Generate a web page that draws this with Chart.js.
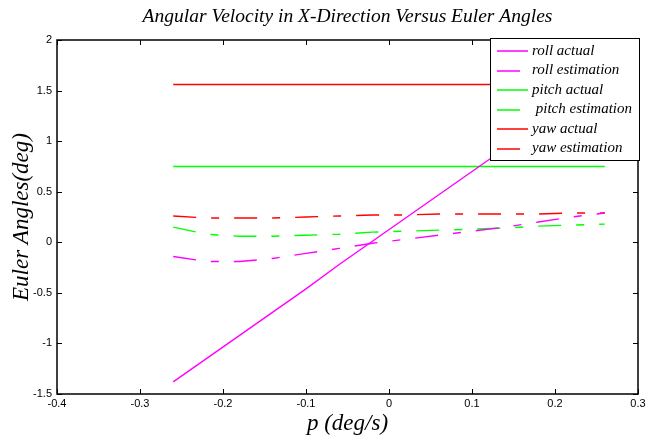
<!DOCTYPE html>
<html>
<head>
<meta charset="utf-8">
<script src="https://cdn.jsdelivr.net/npm/chart.js@4"></script>
<style>
  html, body { margin: 0; padding: 0; background: #fff; }
  #wrap { width: 649px; height: 437px; }
</style>
</head>
<body>
<div id="wrap"><canvas id="chart" width="649" height="437"></canvas></div>
<script>
// p (deg/s) sample points
const pValues = [-0.26, -0.22, -0.18, -0.14, -0.10, -0.06, -0.02, 0.02, 0.06, 0.10, 0.14, 0.18, 0.22, 0.26];

const rollActual = [-1.38, -1.15, -0.92, -0.69, -0.46, -0.22, 0.01, 0.24, 0.47, 0.70, 0.93, 1.16, 1.39, 1.62];
const rollEstimation = [-0.14, -0.19, -0.19, -0.16, -0.11, -0.06, -0.01, 0.03, 0.07, 0.11, 0.15, 0.20, 0.25, 0.29];
const pitchActual = [0.75, 0.75, 0.75, 0.75, 0.75, 0.75, 0.75, 0.75, 0.75, 0.75, 0.75, 0.75, 0.75, 0.75];
const pitchEstimation = [0.15, 0.08, 0.06, 0.06, 0.07, 0.08, 0.10, 0.11, 0.12, 0.13, 0.14, 0.16, 0.17, 0.18];
const yawActual = [1.56, 1.56, 1.56, 1.56, 1.56, 1.56, 1.56, 1.56, 1.56, 1.56, 1.56, 1.56, 1.56, 1.56];
const yawEstimation = [0.26, 0.24, 0.24, 0.24, 0.25, 0.26, 0.27, 0.27, 0.28, 0.28, 0.28, 0.28, 0.29, 0.29];

const seriesLabels = ['roll actual', 'roll estimation', 'pitch actual', ' pitch estimation', 'yaw actual', 'yaw estimation'];
const xTicks = [-0.4, -0.3, -0.2, -0.1, 0, 0.1, 0.2, 0.3];
const yTicks = [-1.5, -1, -0.5, 0, 0.5, 1, 1.5, 2];

const chartTitle = 'Angular Velocity in X-Direction Versus Euler Angles';
const DASH = [23, 15, 8, 15];

function toPoints(ys) {
    return ys.map((y, i) => ({ x: pValues[i], y: y }));
}

function makeSet(label, ys, color, dashed) {
    return {
        label: label,
        data: toPoints(ys),
        borderColor: color,
        backgroundColor: color,
        borderWidth: 1.4,
        borderDash: dashed ? DASH : [],
        pointRadius: 0,
        tension: 0,
        fill: false
    };
}

// matlab style box, inward ticks, title and legend
const matlabPlugin = {
    id: 'matlabBox',
    afterDatasetsDraw(chart) {
        const ctx = chart.ctx;
        const a = chart.chartArea;
        const xs = chart.scales.x;
        const ys = chart.scales.y;
        ctx.save();
        ctx.strokeStyle = '#000';
        ctx.lineWidth = 1.5;
        ctx.strokeRect(a.left, a.top, a.right - a.left, a.bottom - a.top);
        ctx.lineWidth = 1;
        ctx.beginPath();
        xTicks.forEach(v => {
            const px = Math.round(xs.getPixelForValue(v)) + 0.5;
            ctx.moveTo(px, a.bottom); ctx.lineTo(px, a.bottom - 5);
            ctx.moveTo(px, a.top); ctx.lineTo(px, a.top + 5);
        });
        yTicks.forEach(v => {
            const py = Math.round(ys.getPixelForValue(v)) + 0.5;
            ctx.moveTo(a.left, py); ctx.lineTo(a.left + 5, py);
            ctx.moveTo(a.right, py); ctx.lineTo(a.right - 5, py);
        });
        ctx.stroke();

        // title
        ctx.fillStyle = '#000';
        ctx.font = 'italic 19.5px "Liberation Serif", serif';
        ctx.textAlign = 'center';
        ctx.textBaseline = 'middle';
        ctx.fillText(chartTitle, (a.left + a.right) / 2, 17);

        // legend box
        const lx = 490, ly = 38, lw = 149, lh = 122;
        ctx.fillStyle = '#fff';
        ctx.fillRect(lx, ly, lw, lh);
        ctx.strokeStyle = '#000';
        ctx.lineWidth = 1;
        ctx.strokeRect(lx + 0.5, ly + 0.5, lw, lh);
        ctx.font = 'italic 15px "Liberation Serif", serif';
        ctx.textAlign = 'left';
        chart.data.datasets.forEach((ds, i) => {
            const y = 51 + i * 19.5;
            const short = ds.borderDash.length > 0;
            ctx.strokeStyle = ds.borderColor;
            ctx.lineWidth = 1.5;
            ctx.beginPath();
            ctx.moveTo(497, Math.round(y));
            ctx.lineTo(short ? 520 : 528, Math.round(y));
            ctx.stroke();
            ctx.fillStyle = '#000';
            ctx.fillText(ds.label, 532, y);
        });
        ctx.restore();
    }
};

new Chart(document.getElementById('chart'), {
    type: 'line',
    data: {
        datasets: [
            makeSet(seriesLabels[0], rollActual, '#ff00ff', false),
            makeSet(seriesLabels[1], rollEstimation, '#ff00ff', true),
            makeSet(seriesLabels[2], pitchActual, '#00ff00', false),
            makeSet(seriesLabels[3], pitchEstimation, '#00ff00', true),
            makeSet(seriesLabels[4], yawActual, '#ff0000', false),
            makeSet(seriesLabels[5], yawEstimation, '#ff0000', true)
        ]
    },
    options: {
        responsive: false,
        animation: false,
        devicePixelRatio: 1,
        layout: { padding: { top: 40, right: 11, left: 0, bottom: 0 } },
        plugins: {
            legend: { display: false },
            title: { display: false },
            tooltip: { enabled: false }
        },
        scales: {
            x: {
                type: 'linear',
                min: -0.4,
                max: 0.3,
                afterBuildTicks: s => { s.ticks = xTicks.map(v => ({ value: v })); },
                afterFit: s => { s.height = 43; },
                grid: { display: false, drawTicks: false },
                border: { display: false },
                ticks: {
                    autoSkip: false,
                    maxRotation: 0,
                    padding: 3,
                    color: '#000',
                    font: { family: '"Liberation Sans", Arial, sans-serif', size: 11 },
                    callback: v => String(Number(v.toFixed(2)))
                },
                title: {
                    display: true,
                    text: 'p (deg/s)',
                    color: '#000',
                    font: { family: '"Liberation Serif", serif', size: 23, style: 'italic' },
                    padding: { top: 0, bottom: -1 }
                }
            },
            y: {
                type: 'linear',
                min: -1.5,
                max: 2,
                afterBuildTicks: s => { s.ticks = yTicks.map(v => ({ value: v })); },
                afterFit: s => { s.width = 57; },
                grid: { display: false, drawTicks: false },
                border: { display: false },
                ticks: {
                    autoSkip: false,
                    padding: 5,
                    color: '#000',
                    font: { family: '"Liberation Sans", Arial, sans-serif', size: 11 },
                    callback: v => String(Number(v.toFixed(2)))
                },
                title: {
                    display: true,
                    text: 'Euler Angles(deg)',
                    color: '#000',
                    font: { family: '"Liberation Serif", serif', size: 23, style: 'italic' },
                    padding: { top: 8, bottom: 0 }
                }
            }
        }
    },
    plugins: [matlabPlugin]
});
</script>
</body>
</html>
